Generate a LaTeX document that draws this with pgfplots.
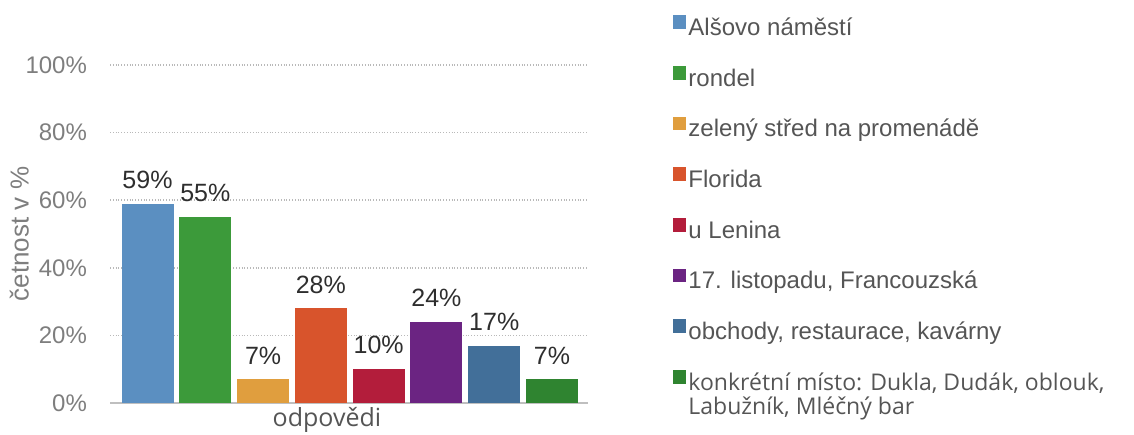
\documentclass[border=0pt]{standalone}
\usepackage{pgfplots}
\pgfplotsset{compat=1.18}
\usepackage{fontspec}
\setmainfont{Liberation Sans}
\newfontfamily\opensans{Open Sans}
\definecolor{c1}{HTML}{5B8FC1}
\definecolor{c2}{HTML}{3C9A3A}
\definecolor{c3}{HTML}{E09E3E}
\definecolor{c4}{HTML}{D8542C}
\definecolor{c5}{HTML}{B31D3B}
\definecolor{c6}{HTML}{6B2482}
\definecolor{c7}{HTML}{426F99}
\definecolor{c8}{HTML}{2F8430}
\definecolor{tickgray}{HTML}{7E7E7E}
\definecolor{leggray}{HTML}{555555}
\definecolor{labgray}{HTML}{2E2E2E}
\begin{document}
\begin{tikzpicture}
\path[use as bounding box] (0,0) rectangle (567pt,217pt);
\begin{axis}[
  at={(55pt,15.5pt)}, anchor=south west,
  scale only axis, width=239pt, height=169pt,
  xmin=-0.649, xmax=7.623, ymin=0, ymax=100,
  ybar,
  axis lines*=left,
  y axis line style={draw=none},
  x axis line style={draw=gray!50, line width=0.8pt},
  xtick=\empty, ytick={0,20,...,100},
  major tick length=0pt,
  ymajorgrids, grid style={densely dotted, gray!55, line width=0.8pt},
  /pgf/number format/assume math mode=true,
  yticklabel={\pgfmathprintnumber{\tick}\%},
  yticklabel style={font=\fontsize{12}{14}\selectfont, text=tickgray, xshift=-8pt},
  ylabel={četnost v \%},
  ylabel style={at={(axis description cs:-0.19,0.5)}, anchor=center, font=\fontsize{13}{15}\selectfont, text=tickgray},
  xlabel={odpovědi},
  xlabel style={at={(axis description cs:0.454,-0.07)}, anchor=base, font=\opensans\fontsize{12.5}{14}\selectfont, text=leggray},
  nodes near coords={\pgfmathprintnumber{\pgfplotspointmeta}\%},
  nodes near coords style={font=\fontsize{12.5}{14}\selectfont, text=labgray, yshift=4pt},
  legend image code/.code={\path (0pt,0.3pt) rectangle (6.5pt,5.5pt); \fill[#1, overlay] (0pt,2.1pt) rectangle (6.5pt,7.1pt);},
  legend cell align=left,
  legend style={at={(axis description cs:1.178,1.139)}, anchor=north west, draw=none, fill=none, inner sep=0pt,
    font=\fontsize{12}{13}\selectfont, text=leggray, row sep=14.35pt, column sep=1pt,
    nodes={inner sep=0pt, text height=8.5pt, text depth=2.5pt}},
]
\addplot[fill=c1, draw=none, bar width=0.9, bar shift=0pt] coordinates {(0,59)};
\addlegendentry{Alšovo náměstí}
\addplot[fill=c2, draw=none, bar width=0.9, bar shift=0pt] coordinates {(1,55)};
\addlegendentry{rondel}
\addplot[fill=c3, draw=none, bar width=0.9, bar shift=0pt] coordinates {(2,7)};
\addlegendentry{zelený střed na promenádě}
\addplot[fill=c4, draw=none, bar width=0.9, bar shift=0pt] coordinates {(3,28)};
\addlegendentry{Florida}
\addplot[fill=c5, draw=none, bar width=0.9, bar shift=0pt] coordinates {(4,10)};
\addlegendentry{u Lenina}
\addplot[fill=c6, draw=none, bar width=0.9, bar shift=0pt] coordinates {(5,24)};
\addlegendentry{17. listopadu, Francouzská}
\addplot[fill=c7, draw=none, bar width=0.9, bar shift=0pt] coordinates {(6,17)};
\addlegendentry{obchody, restaurace, kavárny}
\addplot[fill=c8, draw=none, bar width=0.9, bar shift=0pt] coordinates {(7,7)};
\addlegendentry{\opensans\fontsize{11.5}{11}\selectfont\begin{tabular}[t]{@{}l@{}}konkrétní místo: Dukla, Dudák, oblouk,\\Labužník, Mléčný bar\end{tabular}}
\end{axis}
\end{tikzpicture}
\end{document}
